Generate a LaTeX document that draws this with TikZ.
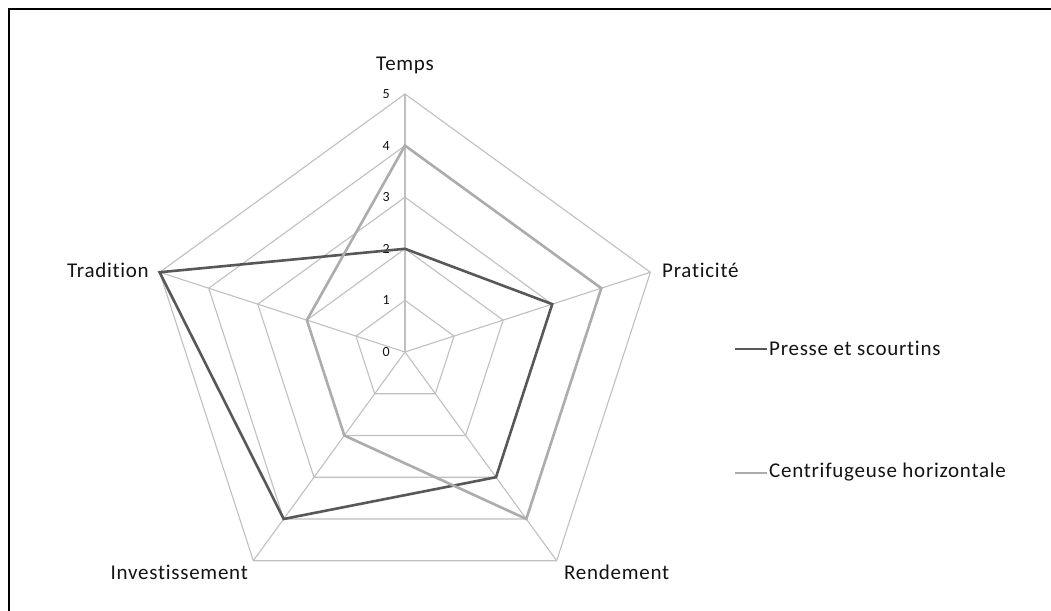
\documentclass[tikz,border=0pt]{standalone}
\usepackage{fontspec}
\setmainfont{Carlito}[Ligatures=NoCommon,LetterSpace=3.5]
\definecolor{gridgray}{RGB}{192,192,192}
\definecolor{darkseries}{RGB}{88,88,88}
\definecolor{lightseries}{RGB}{172,172,172}
\definecolor{labeltext}{RGB}{20,20,20}
\begin{document}
\begin{tikzpicture}[x=1pt,y=1pt,
  gridline/.style={draw=gridgray,line width=1.1pt,line join=miter},
  seriesA/.style={draw=darkseries,line width=2.6pt,line join=miter},
  seriesB/.style={draw=lightseries,line width=2.6pt,line join=miter},
  axislabel/.style={font=\fontsize{21}{24}\selectfont,text=labeltext,inner sep=0pt},
  ticklabel/.style={font=\fontsize{14}{16}\selectfont,text=labeltext,inner sep=0pt,anchor=east},
  legendtext/.style={font=\fontsize{21}{24}\selectfont,text=labeltext,inner sep=0pt,anchor=west}]
\useasboundingbox (0,0) rectangle (1051,610);
\clip (0,0) rectangle (1051,610);
\fill[white] (0,0) rectangle (1051,610);
% outer frame of the chart area
\draw[black,line width=2.2pt] (9,-20) -- (9,601) -- (1070,601);

\def\u{51.6}
\begin{scope}[shift={(405,258)}]
  % axis end points
  \coordinate (C) at (0,0);
  \foreach \a/\n in {90/T,18/P,-54/R,234/I,162/D}{
    \coordinate (\n5) at (\a:5*\u);
  }
  % concentric pentagons
  \foreach \r in {1,...,5}{
    \draw[gridline] (90:\r*\u) -- (18:\r*\u) -- (-54:\r*\u) -- (234:\r*\u) -- (162:\r*\u) -- cycle;
  }
  % spokes
  \foreach \n in {T,P,R,I,D}{
    \draw[gridline] (C) -- (\n5);
  }
  % scale values
  \foreach \v in {0,...,5}{
    \node[ticklabel] (tick\v) at (-15,\v*\u) {\v};
  }
  % series: Presse et scourtins
  \coordinate (a1) at (90:2*\u);
  \coordinate (a2) at (18:3*\u);
  \coordinate (a3) at (-54:3*\u);
  \coordinate (a4) at (234:4*\u);
  \coordinate (a5) at (162:5*\u);
  \draw[seriesA] (a1) -- (a2) -- (a3) -- (a4) -- (a5) -- cycle;
  % series: Centrifugeuse horizontale
  \coordinate (b1) at (90:4*\u);
  \coordinate (b2) at (18:4*\u);
  \coordinate (b3) at (-54:4*\u);
  \coordinate (b4) at (234:2*\u);
  \coordinate (b5) at (162:2*\u);
  \draw[seriesB] (b1) -- (b2) -- (b3) -- (b4) -- (b5) -- cycle;
\end{scope}

% category labels
\node[axislabel] (temps) at (405,545) {Temps};
\node[axislabel,anchor=east] (tradition) at (149,340) {Tradition};
\node[axislabel,anchor=west] (praticite) at (662,340) {Praticité};
\node[axislabel,anchor=west] (rendement) at (564,38) {Rendement};
\node[axislabel,anchor=east] (invest) at (248,38) {Investissement};

% legend
\coordinate (la0) at (735,261);
\coordinate (la1) at (767,261);
\draw[seriesA] (la0) -- (la1);
\node[legendtext] (legA) at (769,262) {Presse et scourtins};
\coordinate (lb0) at (735,137);
\coordinate (lb1) at (767,137);
\draw[seriesB] (lb0) -- (lb1);
\node[legendtext] (legB) at (769,138) {Centrifugeuse horizontale};
\end{tikzpicture}
\end{document}
